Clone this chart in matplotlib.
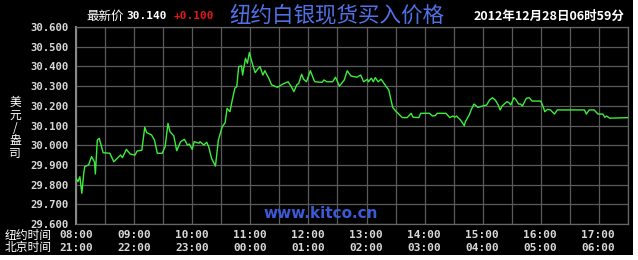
import matplotlib
matplotlib.use("Agg")
import matplotlib.pyplot as plt
from matplotlib.patches import Rectangle

# ---- data ----
# minutes after 08:00 (New York time)
minutes = [0, 2, 4, 6, 8, 9, 13, 16, 19, 20, 22, 24, 28, 35, 39, 46, 48, 52, 56, 61,
           63, 68, 71, 73, 78, 81, 84, 89, 92, 95, 97, 101, 104, 108, 112, 115, 117, 120,
           122, 127, 128, 132, 135, 137, 140, 144, 147, 151, 154, 156, 159, 161, 164, 166,
           168, 171, 172, 175, 177, 179, 182, 185, 187, 190, 193, 195, 199, 202, 208, 213,
           219, 222, 225, 228, 230, 233, 235, 238, 242, 246, 247, 254, 256, 259, 265, 268,
           272, 277, 280, 284, 290, 294, 297, 301, 302, 305, 307, 309, 312, 315, 318, 323,
           327, 330, 337, 342, 346, 348, 354, 356, 365, 368, 371, 373, 382, 386, 389, 391,
           393, 397, 401, 402, 406, 408, 411, 415, 420, 424, 427, 430, 433, 436, 438, 440,
           445, 447, 449, 452, 454, 457, 459, 461, 465, 468, 471, 480, 483, 484, 487, 490,
           494, 497, 525, 527, 530, 535, 539, 544, 546, 548, 551, 570]
prices = [29.832, 29.815, 29.840, 29.756, 29.857, 29.891, 29.900, 29.942, 29.916, 29.854,
          30.026, 30.035, 29.962, 29.959, 29.916, 29.950, 29.937, 29.979, 29.955, 29.950,
          29.970, 29.975, 30.091, 30.064, 30.052, 30.026, 29.959, 29.959, 29.992, 30.111,
          30.069, 30.047, 29.972, 30.018, 30.030, 30.001, 30.006, 29.979, 30.018, 30.010,
          30.018, 30.001, 30.015, 29.992, 29.933, 29.894, 30.026, 30.094, 30.114, 30.187,
          30.170, 30.221, 30.289, 30.297, 30.399, 30.402, 30.356, 30.441, 30.416, 30.470,
          30.416, 30.368, 30.382, 30.399, 30.356, 30.378, 30.340, 30.306, 30.294, 30.309,
          30.322, 30.300, 30.272, 30.306, 30.314, 30.360, 30.335, 30.322, 30.378, 30.327,
          30.322, 30.319, 30.331, 30.322, 30.322, 30.345, 30.300, 30.331, 30.378, 30.351,
          30.345, 30.356, 30.322, 30.335, 30.322, 30.340, 30.322, 30.343, 30.322, 30.335,
          30.314, 30.280, 30.192, 30.174, 30.140, 30.140, 30.162, 30.142, 30.140, 30.162,
          30.162, 30.148, 30.150, 30.162, 30.162, 30.140, 30.148, 30.142, 30.148, 30.128,
          30.099, 30.119, 30.153, 30.179, 30.209, 30.192, 30.199, 30.204, 30.229, 30.241,
          30.229, 30.204, 30.179, 30.199, 30.221, 30.216, 30.204, 30.241, 30.233, 30.209,
          30.209, 30.199, 30.238, 30.241, 30.224, 30.224, 30.187, 30.170, 30.182, 30.179,
          30.158, 30.179, 30.179, 30.158, 30.179, 30.179, 30.158, 30.158, 30.142, 30.148,
          30.137, 30.140]
ny_labels = ["08:00", "09:00", "10:00", "11:00", "12:00", "13:00", "14:00", "15:00", "16:00", "17:00"]
bj_labels = ["21:00", "22:00", "23:00", "00:00", "01:00", "02:00", "03:00", "04:00", "05:00", "06:00"]
y_ticks = [29.6, 29.7, 29.8, 29.9, 30.0, 30.1, 30.2, 30.3, 30.4, 30.5, 30.6]
last_price = "30.140"
change = "+0.100"
title = "纽约白银现货买入价格"
date_text = "2012年12月28日06时59分"

W, H = 638, 260
CJK = ['Noto Sans CJK SC', 'DejaVu Sans']
MONO = ['DejaVu Sans Mono']

fig = plt.figure(figsize=(W / 100, H / 100), dpi=100)
fig.patch.set_facecolor("white")
fig.patches.append(Rectangle((0, 1 - 255 / H), 633 / W, 255 / H, transform=fig.transFigure,
                             facecolor="black", edgecolor="none", zorder=-10))

def fx(x):
    return x / W

def fy(y):
    return 1 - y / H

left, right, top, bottom = 76, 628, 27, 224
ax = fig.add_axes([fx(left), fy(bottom), (right - left) / W, (bottom - top) / H])
ax.set_facecolor("black")

hours = [8 + m / 60 for m in minutes]
ax.plot(hours, prices, color="#3ced3c", lw=1.0, zorder=3)

ax.set_xlim(8, 17.5)
ax.set_ylim(29.6, 30.6)
ax.set_xticks([8 + i for i in range(len(ny_labels))])
ax.set_xticks([8.5 + i for i in range(10)], minor=True)
ax.set_xticklabels([])
ax.set_yticks(y_ticks)
ax.set_yticklabels([f"{v:.3f}" for v in y_ticks], fontfamily=MONO, fontweight="bold",
                   fontsize=7.7, color="#d8d8d8")
ax.tick_params(axis="both", which="both", length=0, pad=5)
ax.grid(True, which="both", color="#5a5a5a", lw=0.9, zorder=1)
for s in ax.spines.values():
    s.set_color("#666666")
    s.set_linewidth(0.9)
ax.spines["left"].set_color("#888888")
ax.spines["left"].set_linewidth(1.5)

# x labels in two rows
for i, (a, b) in enumerate(zip(ny_labels, bj_labels)):
    x = left + i * 58
    fig.text(fx(x), fy(235), a, ha="center", va="center", fontfamily=MONO,
             fontweight="bold", fontsize=8, color="#d8d8d8")
    fig.text(fx(x), fy(248), b, ha="center", va="center", fontfamily=MONO,
             fontweight="bold", fontsize=8, color="#d8d8d8")
fig.text(fx(5), fy(235), "纽约时间", ha="left", va="center", family=CJK, fontsize=8.5, color="white")
fig.text(fx(5), fy(248), "北京时间", ha="left", va="center", family=CJK, fontsize=8.5, color="white")

# y axis label, stacked characters
fig.text(fx(15), fy(128), "美\n元\n/\n盎\n司", ha="center", va="center", family=CJK,
         fontsize=8.5, color="white", linespacing=0.95)

# header
fig.text(fx(86), fy(16), "最新价", ha="left", va="center", family=CJK, fontsize=9, color="white")
fig.text(fx(126), fy(16), last_price, ha="left", va="center", fontfamily=MONO,
         fontweight="bold", fontsize=8, color="white")
fig.text(fx(174), fy(16), change, ha="left", va="center", fontfamily=MONO,
         fontweight="bold", fontsize=8, color="#e01818")
fig.text(fx(337), fy(15), title, ha="center", va="center", family=CJK, fontsize=15.5,
         color="#4f73e6")
fig.text(fx(549), fy(16), date_text, ha="center", va="center", family=CJK, fontsize=9,
         fontweight="bold", color="white")

# watermark
fig.text(fx(321), fy(214), "www.kitco.cn", ha="center", va="center", family=['DejaVu Sans'],
         fontweight="bold", fontsize=11, color="#3a5ad8", zorder=5)

fig.savefig("out.png", dpi=100, facecolor="white")
